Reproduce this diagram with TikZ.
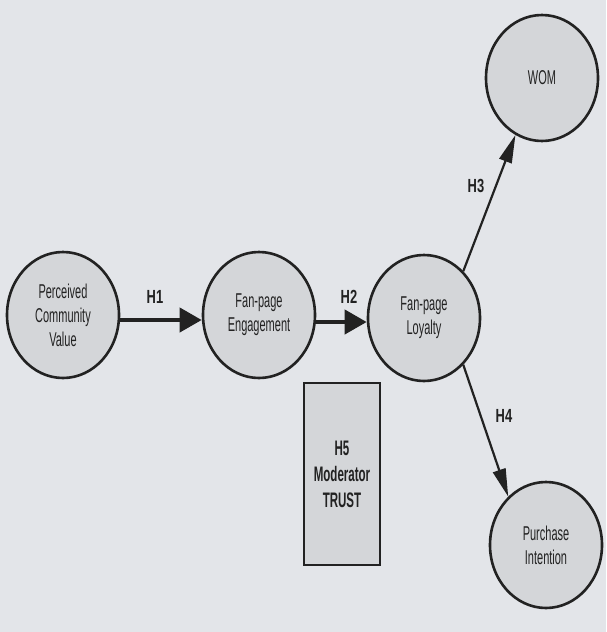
\documentclass[tikz,border=0pt]{standalone}
\usepackage{fontspec}
\setmainfont{Liberation Sans}[FakeStretch=0.55]
\newfontfamily\labfont{Liberation Sans}[FakeStretch=0.68]
\usetikzlibrary{arrows.meta,shapes.geometric}
\definecolor{bg}{HTML}{E3E5E9}
\definecolor{fillc}{HTML}{D4D6D9}
\definecolor{ink}{HTML}{222222}
\begin{document}
\begin{tikzpicture}[x=1pt,y=-1pt,
  var/.style={ellipse,draw=ink,line width=2.6pt,fill=fillc,minimum width=112pt,minimum height=126pt,inner sep=0pt,align=center,font=\fontsize{20}{24}\selectfont,text=ink},
  modbox/.style={rectangle,draw=ink,line width=2.6pt,fill=fillc,minimum width=76pt,minimum height=182pt,align=center,font=\fontsize{21}{26}\selectfont\bfseries,text=ink},
  hlab/.style={font=\labfont\fontsize{19}{21}\selectfont\bfseries,text=ink},
  bigarrow/.style={draw=ink,line width=4pt,-{Triangle[length=22pt,width=24pt]}},
  thinarrow/.style={draw=ink,line width=2.2pt,-{Triangle[length=28pt,width=13pt]}}]
\fill[bg] (0,0) rectangle (606,632);
\useasboundingbox (0,0) rectangle (606,632);
\node[var] (pcv) at (63,315) {Perceived\\Community\\Value};
\node[var] (eng) at (259,315) {Fan-page\\Engagement};
\node[var] (loy) at (424,318) {Fan-page\\Loyalty};
\node[var] (wom) at (542,78) {WOM};
\node[var] (pi) at (546,545) {Purchase\\Intention};
\node[modbox] (mod) at (342,474) {H5\\Moderator\\TRUST};
\coordinate (a1) at (pcv.east |- 0,320);
\coordinate (b1) at (eng.west |- 0,320);
\coordinate (a2) at (eng.east |- 0,322);
\coordinate (b2) at (loy.west |- 0,322);
\draw[bigarrow] (a1) -- (b1);
\draw[bigarrow] (a2) -- (b2);
\draw[thinarrow] (loy.50) -- (wom.245);
\draw[thinarrow] (loy.-50) -- (pi.128);
\node[hlab] (h1) at (155,297) {H1};
\node[hlab] (h2) at (349,297) {H2};
\node[hlab] (h3) at (476,186) {H3};
\node[hlab] (h4) at (504,416) {H4};
\end{tikzpicture}
\end{document}
